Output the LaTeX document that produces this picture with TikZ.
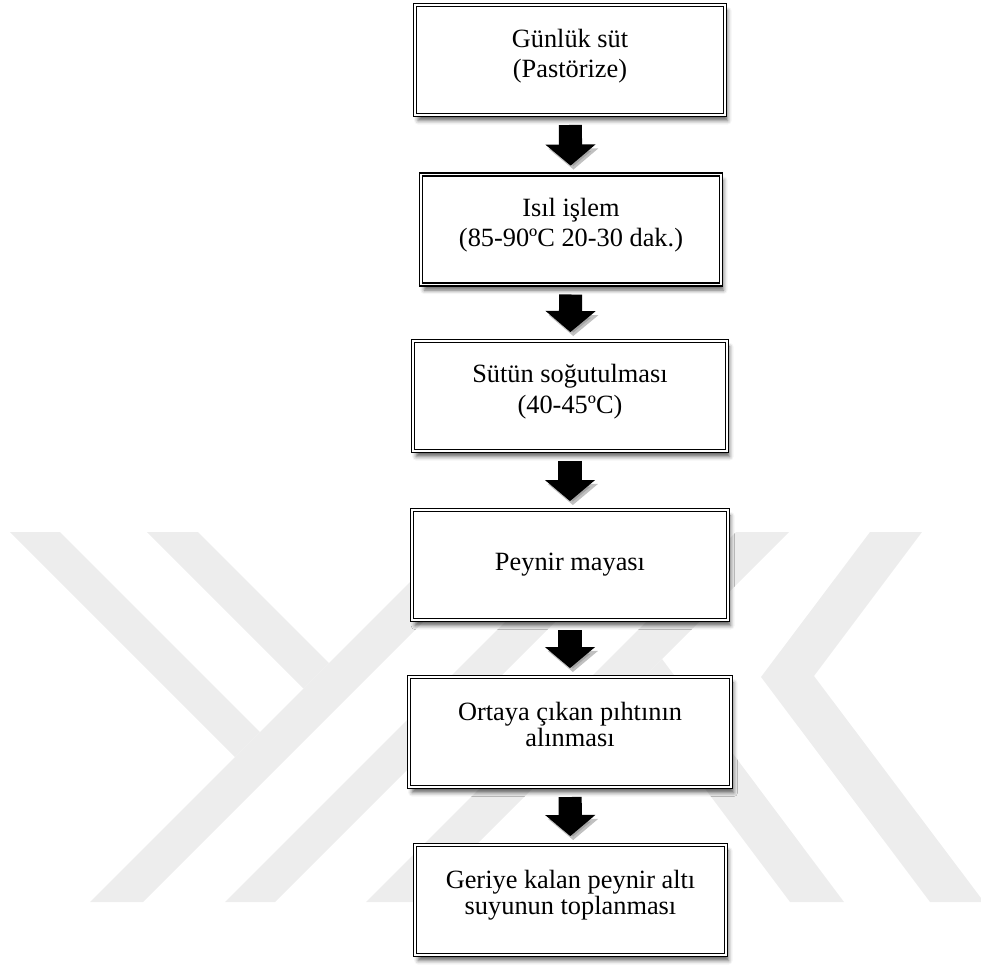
\documentclass[tikz,border=0pt]{standalone}
\usepackage{fontspec}
\setmainfont{Liberation Serif}
\usepackage{tikz}
\usetikzlibrary{arrows.meta, shadows.blur}

\begin{document}
\begin{tikzpicture}[x=0.016cm, y=-0.016cm,
        stepbox/.style={rectangle, draw=black, double=white, double distance=0.8pt,
                        line width=0.6pt, fill=white, align=center,
                        minimum height=50pt, inner sep=2pt,
                        font=\fontsize{12}{13.8}\selectfont,
                        blur shadow={shadow xshift=1.3pt, shadow yshift=-2.6pt,
                                     shadow blur radius=1.8pt, shadow opacity=60}},
        tightbox/.style={stepbox, font=\fontsize{12}{11.5}\selectfont},
        blockarr/.style={-{Triangle[length=9.6pt, width=22.3pt]}, line width=10.5pt,
                         draw=black, shorten <=4.3pt, shorten >=3.8pt,
                         preaction={draw=black!45, opacity=.55,
                                    transform canvas={shift={(1.3pt,-1.8pt)}}}},
        wmark/.style={fill=black!7, draw=none}
    ]
    \useasboundingbox (0,0) rectangle (981,965);

    % faint background logo
    \fill[wmark] (10,532) -- (60,532) -- (260,732) -- (235,757) -- cycle;
    \fill[wmark] (147,532) -- (198,532) -- (329,663) -- (303.5,688.5) -- cycle;
    \fill[wmark] (90,902) -- (143,902) -- (513,532) -- (460,532) -- cycle;
    \fill[wmark] (225,902) -- (275,902) -- (645,532) -- (595,532) -- cycle;
    \fill[wmark] (366,902) -- (419,902) -- (789,532) -- (736,532) -- cycle;
    \fill[wmark] (870,532) -- (922,532) -- (814,676) -- (984,902) -- (930,902) -- (761,677) -- cycle;
    \fill[wmark] (662,659) -- (844,902) -- (790,902) -- (631,690) -- cycle;

    \node[stepbox, minimum width=141pt]    (sut)    at (570,60)    {Günlük süt\\(Pastörize)\rule[-6pt]{0pt}{0pt}};
    \node[stepbox, minimum width=136.4pt]  (isil)   at (571,229.5) {Isıl işlem\\(85-90ºC 20-30 dak.)\rule[-6.5pt]{0pt}{0pt}};
    \node[stepbox, minimum width=142.8pt]  (sogut)  at (570,396)   {Sütün soğutulması\\(40-45ºC)\rule[-6.5pt]{0pt}{0pt}};
    \node[stepbox, minimum width=143.7pt]  (maya)   at (570,565)   {Peynir mayası};
    \node[tightbox, minimum width=146.4pt] (pihti)  at (570,732)   {Ortaya çıkan pıhtının\\alınması\rule[-7pt]{0pt}{0pt}};
    \node[tightbox, minimum width=141.4pt] (altsu)  at (570.5,900) {Geriye kalan peynir altı\\suyunun toplanması\rule[-7pt]{0pt}{0pt}};

    \draw[blockarr] (sut) -- (isil);
    \draw[blockarr] (isil) -- (sogut);
    \draw[blockarr] (sogut) -- (maya);
    \draw[blockarr] (maya) -- (pihti);
    \draw[blockarr] (pihti) -- (altsu);
\end{tikzpicture}
\end{document}
